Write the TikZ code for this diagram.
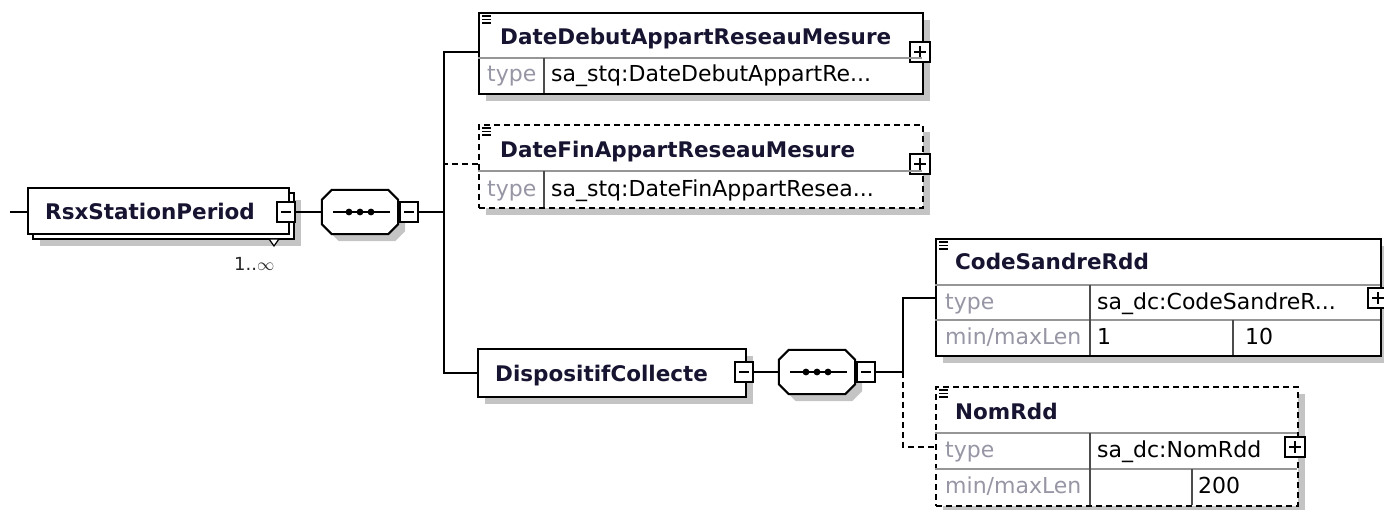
\documentclass[tikz,border=0pt]{standalone}
\usepackage{fontspec}
\setmainfont{DejaVu Sans}
\usetikzlibrary{shadows}
\definecolor{shgray}{RGB}{196,196,196}
\definecolor{typegray}{RGB}{150,150,165}
\definecolor{namecol}{RGB}{22,20,48}
\definecolor{rowgray}{RGB}{150,150,150}

\begin{document}
\begin{tikzpicture}[
		x=1pt, y=-1pt,
		shd/.style={drop shadow={shadow xshift=7pt, shadow yshift=-7pt, fill=shgray, opacity=1}},
		elem/.style={draw, line width=2pt, fill=white, anchor=north west, inner sep=0, shd},
		optl/.style={dash pattern=on 6pt off 4pt},
		seq/.style={minimum width=76pt, minimum height=44pt, inner sep=0},
		pm/.style={draw, line width=1.5pt, fill=white, minimum width=18pt, minimum height=20pt, inner sep=0},
		minus/.style={pm, path picture={\draw[line width=1.5pt] ([xshift=4pt]path picture bounding box.west) -- ([xshift=-4pt]path picture bounding box.east);}},
		plus/.style={pm, minimum width=20pt, path picture={
				\draw[line width=1.5pt] ([xshift=4pt]path picture bounding box.west) -- ([xshift=-4pt]path picture bounding box.east);
				\draw[line width=1.5pt] ([yshift=4pt]path picture bounding box.south) -- ([yshift=-4pt]path picture bounding box.north);}},
		link/.style={line width=2pt},
		row/.style={line width=1.3pt, rowgray},
		col/.style={line width=1.3pt, black!70},
		ttl/.style={anchor=base west, inner sep=0, text=namecol, font=\fontsize{21.5}{24}\selectfont\bfseries},
		lbl/.style={anchor=base west, inner sep=0, text=typegray, font=\fontsize{22}{24}\selectfont},
		val/.style={lbl, text=black},
		]
		\useasboundingbox (0,0) rectangle (1384,510);

		%Root element
		\node[elem, minimum width=261pt, minimum height=46pt]			(rsxback)	at	(32, 192)	{};
		\node[draw, line width=2pt, fill=white, anchor=north west, inner sep=0,
			minimum width=261pt, minimum height=46pt]						(rsx)		at	(27, 187)	{};
		\node[ttl]		(rsxname)	at	(45, 220)	{RsxStationPeriod};
		\node[minus]	(rsxm)		at	(286, 212)	{};
		\draw[line width=1.2pt, fill=white] (269, 239) -- (279, 239) -- (274, 246) -- cycle;
		\node[val, font=\fontsize{18}{20}\selectfont, text=black!85]	(rsxocc)	at	(234, 271)	{1..$\infty$};
		\coordinate (in) at (10, 212);

		%Sequences
		\node[seq]		(seq1)		at	(360, 212)	{};
		\node[seq]		(seq2)		at	(817, 372)	{};
		\foreach \s in {seq1, seq2} {
			\filldraw[line width=2pt, fill=white, shd]
				([xshift=10pt]\s.north west) -- ([xshift=-10pt]\s.north east) -- ([yshift=-10pt]\s.north east)
				-- ([yshift=10pt]\s.south east) -- ([xshift=-10pt]\s.south east) -- ([xshift=10pt]\s.south west)
				-- ([yshift=10pt]\s.south west) -- ([yshift=-10pt]\s.north west) -- cycle;
			\draw[line width=2pt] ([xshift=11pt]\s.west) -- ([xshift=-8pt]\s.east);
			\foreach \d in {-11, 0, 11}
				\fill[black] ([xshift=\d pt]\s.center) circle (3.4pt);
		}
		\node[minus]	(seq1m)		at	(409, 212)	{};
		\node[minus]	(seq2m)		at	(866, 372)	{};
		\coordinate (t1) at (444, 212);
		\coordinate (t2) at (903, 372);

		%Children of RsxStationPeriod
		\node[elem, minimum width=444pt, minimum height=81pt]			(debut)		at	(478, 12)	{};
		\node[elem, optl, minimum width=444pt, minimum height=83pt]	(fin)		at	(478, 124)	{};
		\node[elem, minimum width=268pt, minimum height=48pt]			(disp)		at	(477, 348)	{};
		\node[plus]		(debutp)	at	(920, 52)	{};
		\node[plus]		(finp)		at	(920, 164)	{};
		\node[minus]	(dispm)		at	(744, 372)	{};

		\draw[row]	(478, 58) -- (922, 58);
		\draw[col]	(544, 58) -- (544, 93);
		\draw[row]	(478, 171) -- (922, 171);
		\draw[col]	(544, 171) -- (544, 207);

		\node[ttl]	(debutname)	at	(500, 45)	{DateDebutAppartReseauMesure};
		\node[lbl]	(debutlbl)	at	(487, 82)	{type};
		\node[val]	(debuttype)	at	(551, 82)	{sa\_stq:DateDebutAppartRe...};
		\node[ttl]	(finname)	at	(500, 158)	{DateFinAppartReseauMesure};
		\node[lbl]	(finlbl)	at	(487, 197)	{type};
		\node[val]	(fintype)	at	(551, 197)	{sa\_stq:DateFinAppartResea...};
		\node[ttl]	(dispname)	at	(495, 382)	{DispositifCollecte};

		%Children of DispositifCollecte
		\node[elem, minimum width=445pt, minimum height=117pt]			(code)		at	(935, 238)	{};
		\node[elem, optl, minimum width=362pt, minimum height=119pt]	(nom)		at	(935, 386)	{};
		\node[plus]		(codep)		at	(1378, 298)	{};
		\node[plus]		(nomp)		at	(1295, 447)	{};

		\draw[row]	(935, 285) -- (1380, 285);
		\draw[row]	(935, 320) -- (1380, 320);
		\draw[col]	(1090, 285) -- (1090, 355);
		\draw[col]	(1233, 320) -- (1233, 355);
		\draw[row]	(935, 433) -- (1297, 433);
		\draw[row]	(935, 469) -- (1297, 469);
		\draw[col]	(1090, 433) -- (1090, 505);
		\draw[col]	(1192, 469) -- (1192, 505);

		\node[ttl]	(codename)	at	(955, 270)	{CodeSandreRdd};
		\node[lbl]	(codelbl)	at	(945, 310)	{type};
		\node[val]	(codetype)	at	(1097, 310)	{sa\_dc:CodeSandreR...};
		\node[lbl]	(codelen)	at	(945, 345)	{min/maxLen};
		\node[val]	(codemin)	at	(1097, 345)	{1};
		\node[val]	(codemax)	at	(1245, 345)	{10};
		\node[ttl]	(nomname)	at	(955, 419)	{NomRdd};
		\node[lbl]	(nomlbl)	at	(945, 457)	{type};
		\node[val]	(nomtype)	at	(1097, 457)	{sa\_dc:NomRdd};
		\node[lbl]	(nomlen)	at	(945, 493)	{min/maxLen};
		\node[val]	(nommax)	at	(1198, 493)	{200};

		%Element icons
		\foreach \n in {debut, fin, code, nom}
			\foreach \k in {4, 7.5, 11}
				\draw[line width=1.4pt] ([shift={(4pt,-\k pt)}]\n.north west) -- ++(9, 0);

		%Connectors
		\draw[link]	(in)		--	(in -| rsx.west);
		\draw[link]	(rsxm)		--	(seq1.west);
		\draw[link]	(seq1m)		--	(t1);
		\draw[link]	(debut.west |- debutp)	-|	(t1 |- disp)	--	(disp);
		\draw[link, optl]	(fin.west |- finp)	--	(finp -| t1);
		\draw[link]	(dispm)		--	(seq2.west);
		\draw[link]	(seq2m)		--	(t2);
		\draw[link]	(code.west |- codep)	-|	(t2);
		\draw[link, optl]	(t2)	|-	(nom.west |- nomp);
	\end{tikzpicture}
\end{document}
